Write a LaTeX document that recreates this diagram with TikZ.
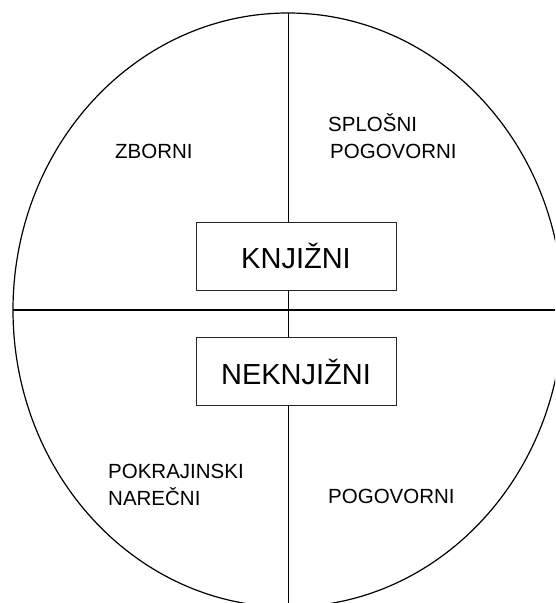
\documentclass[tikz,border=0pt]{standalone}
\usepackage{fontspec}
\setmainfont{Liberation Sans}
\begin{document}
\begin{tikzpicture}[x=1pt,y=-1pt,
  lbl/.style={inner sep=0pt,anchor=base west,font=\fontsize{20.5}{27}\selectfont},
  box/.style={draw=black!85,line width=1pt,fill=white,minimum width=200pt,minimum height=68pt,inner sep=0pt,font=\fontsize{29}{34}\selectfont},
  axis/.style={draw=black}]
\useasboundingbox (0,0) rectangle (555,603);
\clip (0,0) rectangle (555,603);
\coordinate (c) at (288,310);
\coordinate (top) at (288,13);
\coordinate (bot) at (288,603);
\coordinate (lft) at (13,310);
\coordinate (rgt) at (555,310);
\draw[line width=1.2pt] (c) ellipse [x radius=275pt, y radius=297pt];
\draw[axis,line width=1pt] (top) -- (bot);
\draw[axis,line width=2pt] (lft) -- (rgt);
\node[box] (knj) at (296,256) {KNJIŽNI};
\node[box] (nek) at (296,371.5) {NEKNJIŽNI};
\node[lbl] (zb) at (115,158) {ZBORNI};
\node[lbl] (sp1) at (328,131) {SPLOŠNI};
\node[lbl] (sp2) at (330,158) {POGOVORNI};
\node[lbl] (po1) at (108,478) {POKRAJINSKI};
\node[lbl] (po2) at (108,505) {NAREČNI};
\node[lbl] (pg) at (328,503) {POGOVORNI};
\end{tikzpicture}
\end{document}
